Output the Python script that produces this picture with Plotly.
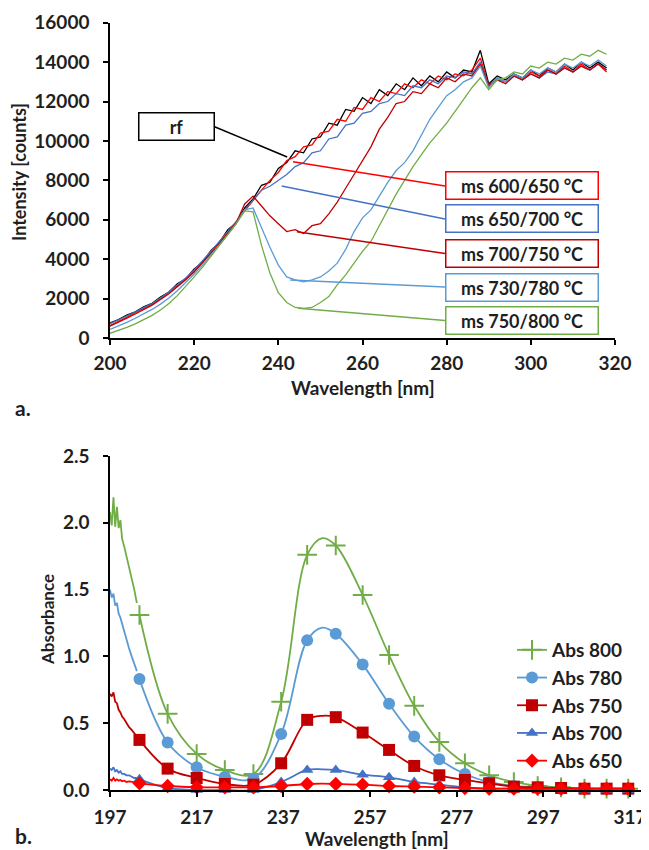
import plotly.graph_objects as go

# ---------------- Panel a: intensity spectra ----------------
WL = list(range(200, 319, 2))

RF = [760, 930, 1160, 1330, 1580, 1760, 2080, 2330, 2750, 3000,
      3500, 3850, 4450, 4850, 5500, 5850, 6600, 7050, 7750, 7900,
      8600, 8900, 9500, 9400, 10100, 10200, 10900, 10800, 11600, 11500,
      12200, 11900, 12600, 12300, 12900, 12600, 13200, 12800, 13300, 13000,
      13500, 13200, 13600, 13500, 14600, 12900, 13300, 13100, 13400, 13200,
      13600, 13300, 13700, 13500, 13900, 13600, 14000, 13700, 14000, 13700]

MS_600_650 = [640, 830, 1050, 1280, 1480, 1720, 1980, 2300, 2650, 3020,
              3400, 3850, 4350, 4850, 5350, 5900, 6450, 7000, 7500, 8000,
              8400, 9000, 9200, 9700, 9800, 10400, 10500, 11100, 11000, 11700,
              11600, 12200, 12000, 12500, 12400, 12900, 12700, 13100, 12900, 13300,
              13100, 13400, 13300, 13600, 14200, 12800, 13200, 13000, 13300, 13100,
              13500, 13300, 13600, 13400, 13800, 13500, 13900, 13600, 13900, 13500]

MS_650_700 = [730, 920, 1120, 1320, 1540, 1750, 2030, 2330, 2700, 3050,
              3450, 3900, 4400, 4900, 5400, 5900, 6500, 7000, 7500, 7700,
              8000, 8300, 8700, 8900, 9400, 9500, 10100, 10200, 10800, 10900,
              11400, 11500, 11900, 12000, 12400, 12300, 12800, 12700, 13100, 12900,
              13300, 13200, 13500, 13400, 14000, 12800, 13100, 13000, 13300, 13100,
              13400, 13200, 13500, 13400, 13700, 13500, 13800, 13600, 13900, 13600]

MS_700_750 = [600, 790, 1000, 1220, 1430, 1670, 1950, 2250, 2600, 2950,
              3350, 3800, 4300, 4800, 5350, 5850, 6800, 7200, 6700, 6200,
              5800, 5400, 5500, 5300, 5700, 5800, 6300, 6900, 7600, 8300,
              9000, 9700, 10600, 11200, 11900, 12000, 12500, 12400, 12900, 12700,
              13200, 13000, 13400, 13300, 13900, 12800, 13100, 12900, 13300, 13100,
              13400, 13200, 13600, 13400, 13700, 13500, 13800, 13600, 13900, 13600]

MS_730_780 = [440, 600, 790, 1000, 1220, 1450, 1720, 2030, 2400, 2800,
              3250, 3700, 4200, 4700, 5250, 5800, 6500, 6600, 5600, 4600,
              3700, 3100, 2950, 2850, 2950, 3100, 3400, 3800, 4500, 5400,
              6100, 6500, 7200, 7900, 8500, 8900, 9500, 10300, 11100, 11700,
              12300, 12600, 13000, 13200, 13800, 12700, 13200, 13000, 13400, 13200,
              13600, 13400, 13700, 13500, 13900, 13700, 14000, 13800, 14100, 13800]

MS_750_800 = [240, 380, 540, 720, 920, 1150, 1420, 1750, 2150, 2600,
              3100, 3600, 4150, 4700, 5250, 5800, 6450, 6400, 4700, 3300,
              2300, 1800, 1550, 1500, 1550, 1800, 2100, 2700, 3200, 3800,
              4400, 4900, 5700, 6500, 7300, 8000, 8700, 9300, 9900, 10400,
              10900, 11500, 12100, 12700, 13200, 12600, 13100, 13200, 13500, 13400,
              13800, 13700, 14000, 13900, 14200, 14100, 14400, 14300, 14600, 14400]

SPECTRA_NAMES = ["rf", "ms 600/650 °C", "ms 650/700 °C", "ms 700/750 °C",
                 "ms 730/780 °C", "ms 750/800 °C"]
SPECTRA_VALUES = [RF, MS_600_650, MS_650_700, MS_700_750, MS_730_780, MS_750_800]
SPECTRA_COLORS = ["#000000", "#FF0000", "#4472C4", "#C00000", "#5B9BD5", "#70AD47"]

# label boxes: (box centre wavelength, box centre intensity) and leader target on curve
LABEL_BOX = [(215.7, 10734), (297.8, 7714), (297.8, 6039), (297.8, 4288),
             (297.8, 2588), (297.8, 888)]
LEADER_FROM = [(242.1, 9186), (243.5, 8948), (240.8, 7714), (244.4, 5395),
               (242.8, 2943), (244.7, 1507)]
LEADER_TO = [(224.7, 10734), (279.6, 7714), (279.6, 6039), (279.6, 4288),
             (279.6, 2588), (279.6, 888)]

# ---------------- Panel b: absorbance ----------------
ABS_WL = [203.8, 210.3, 217.0, 223.5, 230.1, 236.5, 242.5, 249.1, 255.3, 261.4,
          267.2, 273.0, 278.9, 284.5, 290.2, 295.7, 301.1, 306.5, 311.6, 316.6]
ABS_800 = [1.31, 0.57, 0.27, 0.15, 0.12, 0.66, 1.76, 1.83, 1.46, 1.01,
           0.63, 0.36, 0.20, 0.11, 0.06, 0.03, 0.02, 0.01, 0.01, 0.01]
ABS_780 = [0.83, 0.355, 0.17, 0.10, 0.085, 0.42, 1.12, 1.17, 0.94, 0.645,
           0.40, 0.23, 0.12, 0.06, 0.03, 0.02, 0.01, 0.01, 0.01, 0.01]
ABS_750 = [0.375, 0.16, 0.09, 0.045, 0.04, 0.20, 0.525, 0.545, 0.43, 0.30,
           0.18, 0.11, 0.075, 0.05, 0.025, 0.02, 0.015, 0.01, 0.01, 0.01]
ABS_700 = [0.08, 0.015, 0.0, 0.0, 0.0, 0.06, 0.15, 0.15, 0.115, 0.095,
           0.06, 0.04, 0.02, 0.01, 0.01, 0.005, 0.005, 0.0, 0.0, 0.0]
ABS_650 = [0.05, 0.03, 0.02, 0.02, 0.02, 0.03, 0.045, 0.045, 0.04, 0.03,
           0.025, 0.02, 0.015, 0.01, 0.01, 0.01, 0.01, 0.01, 0.01, 0.01]

# band maximum (no marker there)
PEAK_WL = 246.0
PEAK_VALUES = [1.885, 1.215, 0.555, 0.155, 0.047]

# noisy start of the absorbance records (before the first marker)
START_WL = [197.0, 197.4, 197.8, 198.2, 198.6, 199.0, 199.4, 199.8, 200.3, 200.8,
            201.4, 202.0, 202.6, 203.2]
START_800 = [2.08, 1.98, 2.19, 1.97, 2.12, 1.96, 2.02, 1.88, 1.82, 1.75,
             1.68, 1.58, 1.50, 1.40]
START_780 = [1.50, 1.44, 1.47, 1.38, 1.40, 1.32, 1.29, 1.24, 1.18, 1.12,
             1.06, 1.00, 0.95, 0.89]
START_750 = [0.72, 0.70, 0.73, 0.66, 0.65, 0.60, 0.58, 0.55, 0.53, 0.50,
             0.47, 0.45, 0.42, 0.40]
START_700 = [0.16, 0.15, 0.17, 0.14, 0.15, 0.13, 0.14, 0.12, 0.12, 0.11,
             0.11, 0.10, 0.09, 0.09]
START_650 = [0.08, 0.07, 0.09, 0.07, 0.08, 0.07, 0.075, 0.065, 0.07, 0.06,
             0.065, 0.06, 0.055, 0.055]

ABS_NAMES = ["Abs 800", "Abs 780", "Abs 750", "Abs 700", "Abs 650"]
ABS_VALUES = [ABS_800, ABS_780, ABS_750, ABS_700, ABS_650]
ABS_START = [START_800, START_780, START_750, START_700, START_650]
ABS_COLORS = ["#70AD47", "#5B9BD5", "#C00000", "#4472C4", "#FF0000"]
ABS_SYMBOLS = ["cross-thin", "circle", "square", "triangle-up", "diamond"]
ABS_SIZES = [14, 12, 12, 11, 11]

FONT = "Lato, 'Open Sans', sans-serif"
TXT = "#1F1F1F"
OFF = 8                       # page body margin of the html page
FW, FH = 641, 842             # figure size so that it fills the 649x850 window


def xp(p):                    # page pixel -> paper x
    return (p - OFF) / FW


def yp(p):                    # page pixel -> paper y
    return 1 - (p - OFF) / FH


fig = go.Figure()

for name, vals, col in zip(SPECTRA_NAMES, SPECTRA_VALUES, SPECTRA_COLORS):
    fig.add_trace(go.Scatter(x=WL, y=vals, mode="lines", name=name,
                             line=dict(color=col, width=1.3),
                             showlegend=False, xaxis="x", yaxis="y"))

for name, vals, start, peak, col, sym, sz in zip(ABS_NAMES, ABS_VALUES, ABS_START,
                                                 PEAK_VALUES, ABS_COLORS,
                                                 ABS_SYMBOLS, ABS_SIZES):
    # continuous curve: noisy start + marker points + band maximum
    pts = sorted(list(zip(ABS_WL, vals)) + [(PEAK_WL, peak)])
    fig.add_trace(go.Scatter(x=START_WL, y=start + [vals[0]], mode="lines",
                             line=dict(color=col, width=1.8),
                             showlegend=False, xaxis="x2", yaxis="y2",
                             hoverinfo="skip"))
    fig.add_trace(go.Scatter(x=[p[0] for p in pts], y=[p[1] for p in pts],
                             mode="lines",
                             line=dict(color=col, width=1.8, shape="spline",
                                       smoothing=1.0),
                             showlegend=False, xaxis="x2", yaxis="y2",
                             hoverinfo="skip"))
    mk = dict(symbol=sym, size=sz, color=col)
    if sym == "cross-thin":
        mk["line"] = dict(color=col, width=2)
    fig.add_trace(go.Scatter(x=ABS_WL, y=vals, mode="markers", name=name,
                             marker=mk, cliponaxis=False, showlegend=False,
                             xaxis="x2", yaxis="y2"))
    # legend entry (line + marker symbol)
    fig.add_trace(go.Scatter(x=[None], y=[None], mode="lines+markers", name=name,
                             line=dict(color=col, width=1.8), marker=mk,
                             xaxis="x2", yaxis="y2"))

shapes = []
annotations = []
for (bx, by), (fx, fy), (tx, ty), name, col in zip(LABEL_BOX, LEADER_FROM, LEADER_TO,
                                                    SPECTRA_NAMES, SPECTRA_COLORS):
    shapes.append(dict(type="line", xref="x", yref="y", x0=fx, y0=fy, x1=tx, y1=ty,
                       line=dict(color=col, width=1.5)))
    w = 72 if name == "rf" else 149
    annotations.append(dict(xref="x", yref="y", x=bx, y=by, text=name,
                            showarrow=False, width=w, height=24, align="center",
                            bordercolor=col, borderwidth=1.5, borderpad=1,
                            bgcolor="white",
                            font=dict(family=FONT, size=18, color=TXT, weight="bold")))


def paper_ann(text, px, py, size, angle=0):
    return dict(xref="paper", yref="paper", x=xp(px), y=yp(py), text=text,
                showarrow=False, xanchor="center", yanchor="middle",
                textangle=angle,
                font=dict(family=FONT, size=size, color=TXT, weight="bold"))


annotations += [
    paper_ann("Intensity [counts]", 19, 172, 18, -90),
    paper_ann("Wavelength [nm]", 362.5, 388, 19),
    paper_ann("a.", 23, 407, 21),
    paper_ann("Absorbance", 47, 620, 17, -90),
    paper_ann("Wavelength [nm]", 376.5, 838, 19),
    paper_ann("b.", 23, 835, 21),
]

axis_common = dict(showline=True, linecolor="#000000", linewidth=1.5,
                   ticks="outside", ticklen=5, tickwidth=1.5, tickcolor="#000000",
                   showgrid=False, zeroline=False, mirror=False, automargin=False,
                   tickfont=dict(family=FONT, size=19, color=TXT, weight="bold"))

fig.update_layout(
    width=FW, height=FH,
    margin=dict(l=0, r=0, t=0, b=0, autoexpand=False),
    paper_bgcolor="white", plot_bgcolor="white",
    xaxis=dict(domain=[xp(110), xp(615)], range=[200, 320], tick0=200, dtick=20,
               anchor="y", ticklabelstandoff=2, **axis_common),
    yaxis=dict(domain=[yp(338), yp(22.7)], range=[0, 16000], dtick=2000,
               tickformat="d", anchor="x", ticklabelstandoff=10, **axis_common),
    xaxis2=dict(domain=[xp(110), xp(643)], range=[197, 320], tick0=197, dtick=20,
                anchor="y2", ticklabelstandoff=4, **axis_common),
    yaxis2=dict(domain=[yp(790), yp(456)], range=[0, 2.5], dtick=0.5,
                tickformat=".1f", anchor="x2", ticklabelstandoff=10, **axis_common),
    legend=dict(x=xp(512), y=yp(631), xanchor="left", yanchor="top",
                bgcolor="rgba(0,0,0,0)", itemwidth=30, tracegroupgap=0,
                font=dict(family=FONT, size=19, color=TXT, weight="bold")),
    shapes=shapes,
    annotations=annotations,
)

fig.write_html("out.html")
